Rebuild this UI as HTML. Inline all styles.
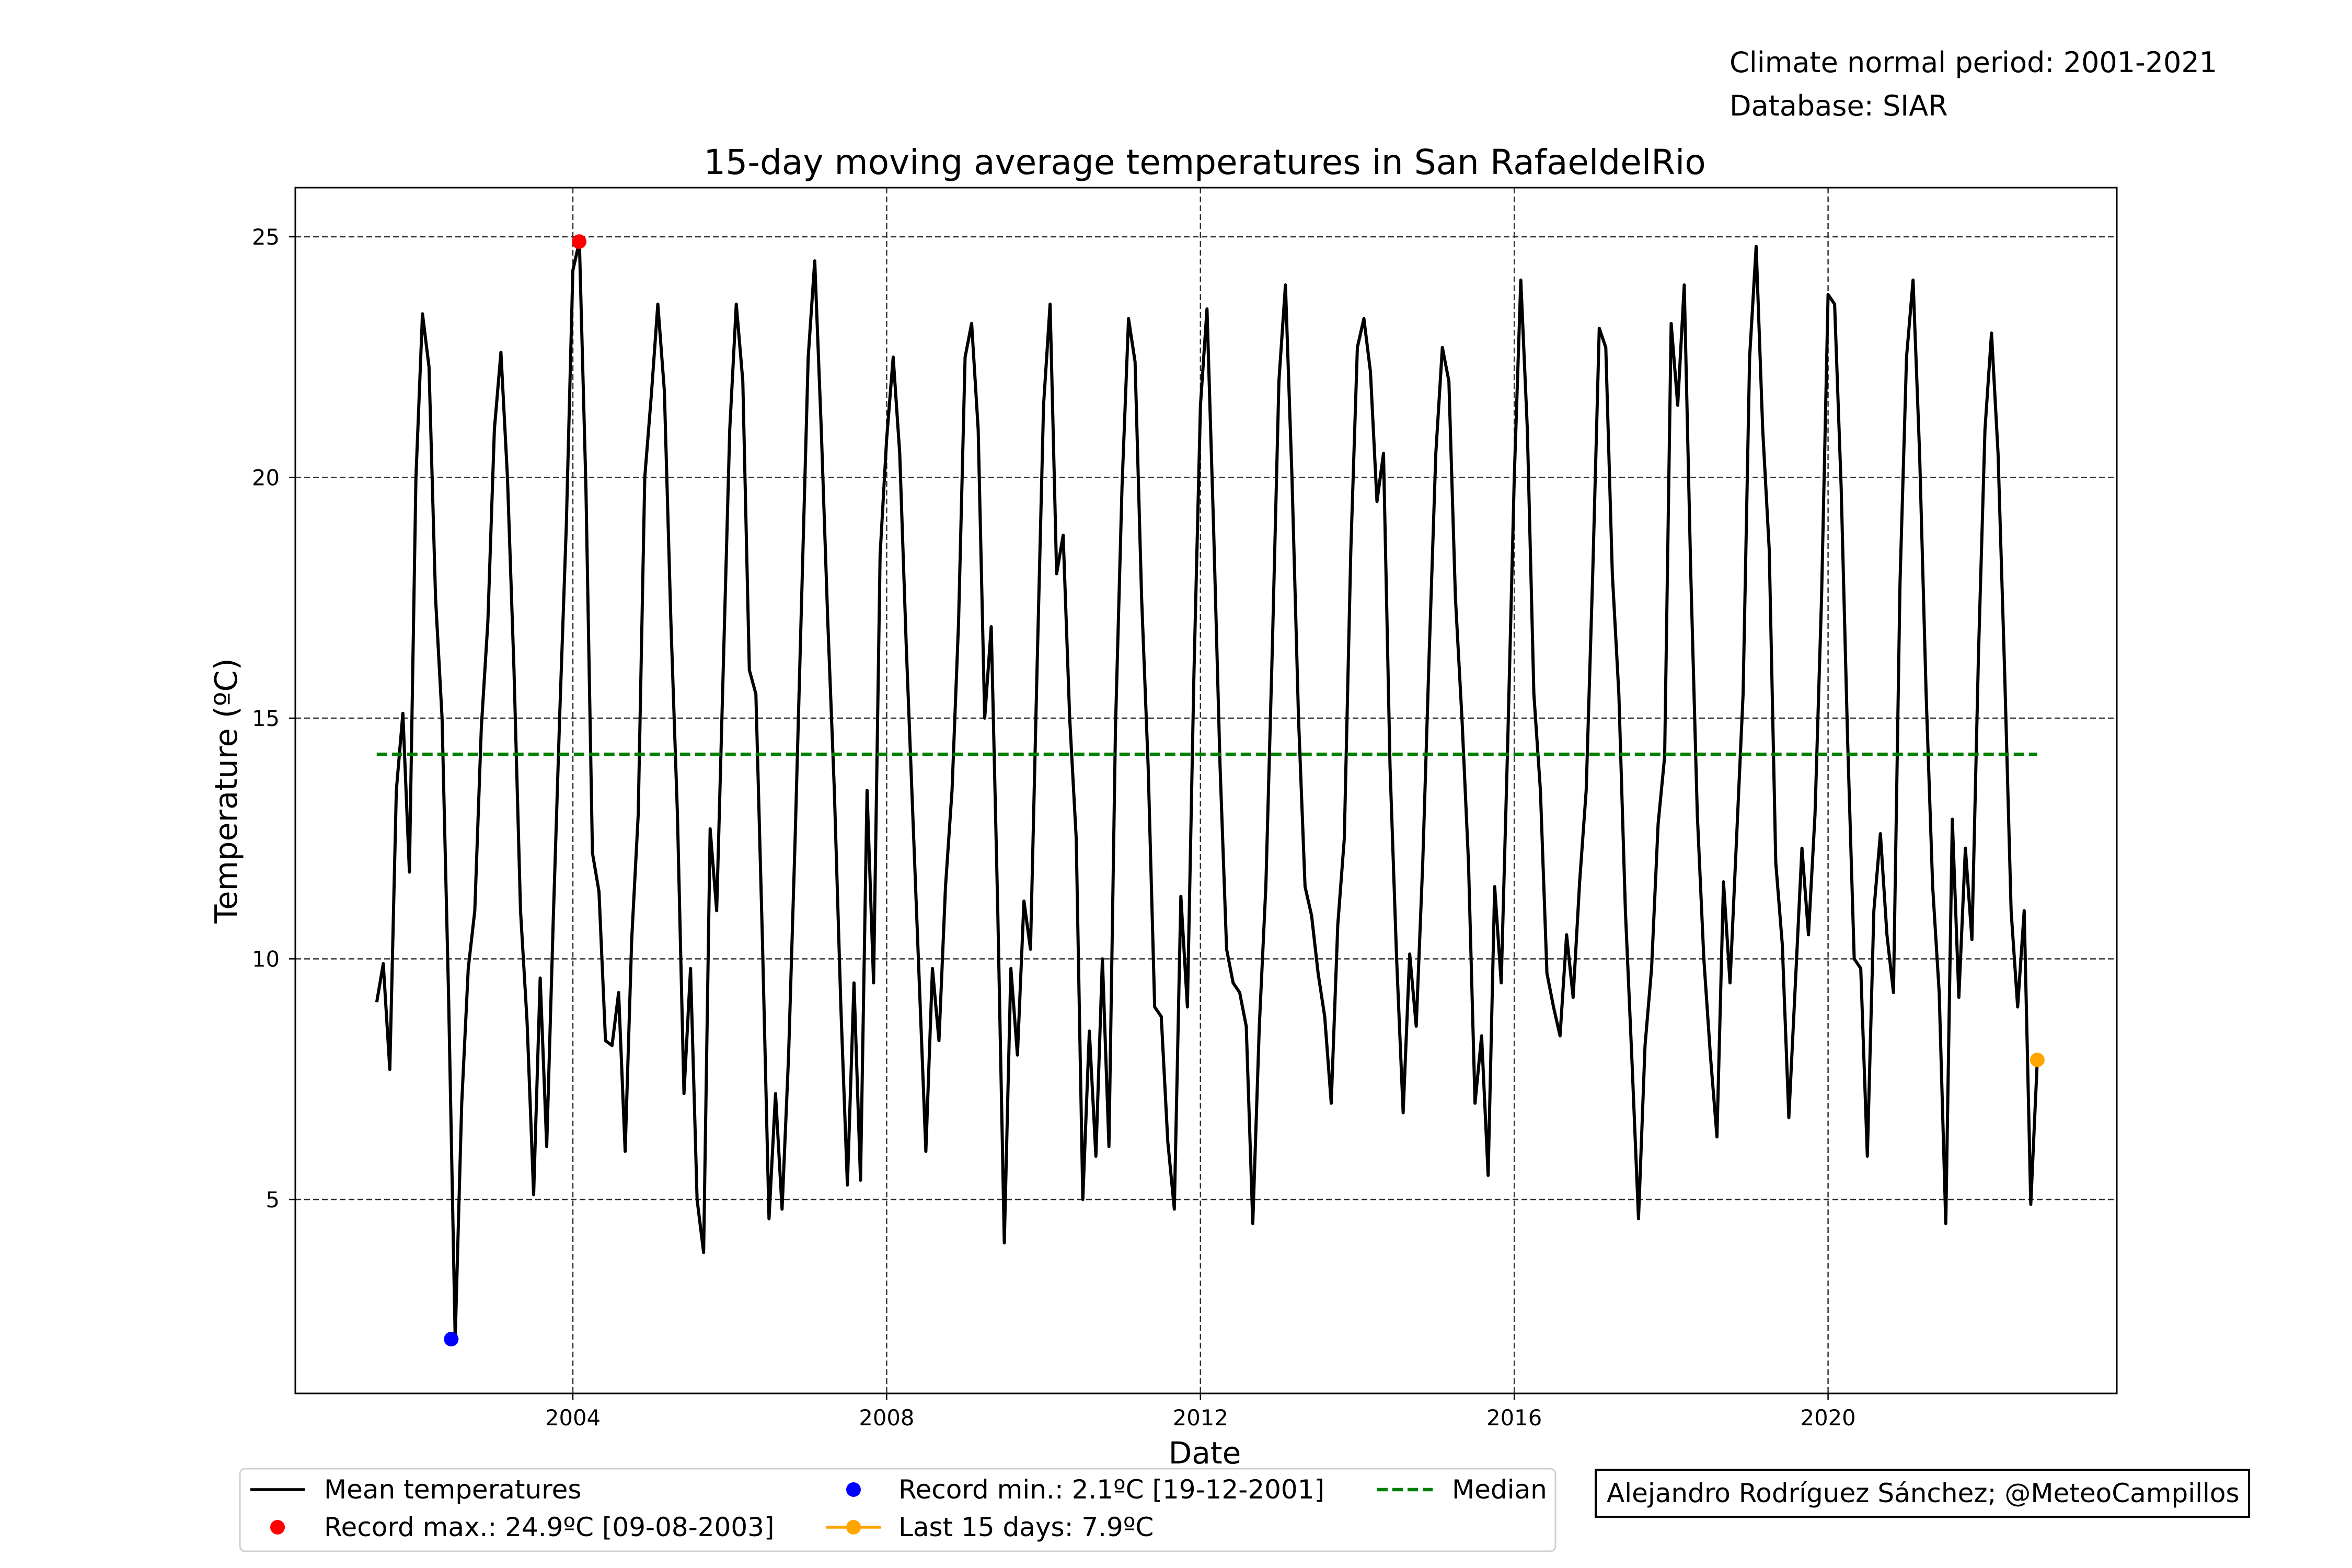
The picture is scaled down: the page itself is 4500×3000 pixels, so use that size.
<!DOCTYPE html>
<html><head><meta charset="utf-8"><style>
html,body{margin:0;padding:0;background:#fff;}
svg{display:block;font-family:"DejaVu Sans","Liberation Sans",sans-serif;}
</style></head><body>
<svg id="chart" width="4500" height="3000" viewBox="0 0 4500 3000" xmlns="http://www.w3.org/2000/svg">
<rect x="0" y="0" width="4500" height="3000" fill="#fff"/>
<text x="3309" y="138" font-size="54">Climate normal period: 2001-2021</text>
<text x="3309" y="221" font-size="54">Database: SIAR</text>
<text x="2305" y="333" font-size="66" text-anchor="middle">15-day moving average temperatures in San RafaeldelRio</text>
<g id="grid"></g>
<g id="plot"></g>
<rect x="565" y="359" width="3485" height="2307" fill="none" stroke="#000" stroke-width="3"/>
<g id="ticks"></g>
<text x="2305" y="2800" font-size="58" text-anchor="middle">Date</text>
<text x="0" y="0" font-size="59" text-anchor="middle" transform="translate(453,1513) rotate(-90)">Temperature (ºC)</text>
<g>
<rect x="459" y="2810" width="2517" height="158" rx="10" fill="#fff" stroke="#d0d0d0" stroke-width="3"/>
<line x1="479" y1="2850" x2="583" y2="2850" stroke="#000" stroke-width="5.5"/>
<text x="620" y="2867" font-size="50">Mean temperatures</text>
<circle cx="531" cy="2922" r="14" fill="#ff0000"/>
<text x="620" y="2939" font-size="50">Record max.: 24.9ºC [09-08-2003]</text>
<circle cx="1633" cy="2850" r="14" fill="#0000ff"/>
<text x="1719" y="2867" font-size="50">Record min.: 2.1ºC [19-12-2001]</text>
<line x1="1580" y1="2922" x2="1686" y2="2922" stroke="#ffa500" stroke-width="5.5"/>
<circle cx="1633" cy="2922" r="14" fill="#ffa500"/>
<text x="1719" y="2939" font-size="50">Last 15 days: 7.9ºC</text>
<line x1="2635" y1="2850" x2="2741" y2="2850" stroke="#008000" stroke-width="6.5" stroke-dasharray="20,9"/>
<text x="2778" y="2867" font-size="50">Median</text>
</g>
<g>
<rect x="3053" y="2812" width="1250" height="90" fill="#fff" stroke="#000" stroke-width="4"/>
<text x="3074" y="2874" font-size="50">Alejandro Rodríguez Sánchez; @MeteoCampillos</text>
</g>
</svg>
<script>
const startYear = 2001.5;
const stepYears = 1/12;
const temps = [
9.1,9.9,7.7,13.5,15.1,11.8,20,23.4,22.3,17.5,15,9.2,
2.1,7,9.8,11,14.8,17,21,22.6,20,16,11,8.7,
5.1,9.6,6.1,10.8,15.1,19,24.3,24.9,19.8,12.2,11.4,8.3,
8.2,9.3,6.0,10.4,13,20,21.7,23.6,21.8,17,13,7.2,
9.8,5.0,3.9,12.7,11,16,21,23.6,22,16,15.5,10.4,
4.6,7.2,4.8,8,12.5,17.5,22.5,24.5,21,17,13.5,9,
5.3,9.5,5.4,13.5,9.5,18.4,20.8,22.5,20.5,16.5,13,9.5,
6.0,9.8,8.3,11.5,13.5,17,22.5,23.2,21,15,16.9,11,
4.1,9.8,8,11.2,10.2,16,21.5,23.6,18,18.8,15,12.5,
5.0,8.5,5.9,10,6.1,14.8,19.8,23.3,22.4,17.5,14,9,
8.8,6.2,4.8,11.3,9,15.9,21.5,23.5,19,14,10.2,9.5,
9.3,8.6,4.5,8.6,11.5,16.5,22,24,20,15,11.5,10.9,
9.7,8.8,7,10.7,12.5,18.5,22.7,23.3,22.2,19.5,20.5,14,
10,6.8,10.1,8.6,12,16.4,20.5,22.7,22,17.5,15,12,
7,8.4,5.5,11.5,9.5,14.5,20,24.1,21,15.5,13.5,9.7,
9,8.4,10.5,9.2,11.6,13.5,18,23.1,22.7,18,15.5,11,
7.9,4.6,8.2,9.8,12.8,14.2,23.2,21.5,24,18,13,10,
8,6.3,11.6,9.5,12.5,15.5,22.5,24.8,21,18.5,12,10.3,
6.7,9.5,12.3,10.5,13,17.5,23.8,23.6,19.8,14.5,10,9.8,
5.9,11,12.6,10.5,9.3,17.8,22.5,24.1,20.5,15.5,11.5,9.3,
4.5,12.9,9.2,12.3,10.4,16.3,21,23,20.5,16,11,9,
11.0,4.9,7.9
];
const yTicks = [5,10,15,20,25];
const xTicks = [2004,2008,2012,2016,2020];
const medianValue = 14.25;
const recordMax = [2004.08, 24.9];
const recordMin = [2002.45, 2.1];

const NS = "http://www.w3.org/2000/svg";
function xs(t){ return 1096 + (t-2004)*150.1; }
function ys(v){ return 453 + (25-v)*92.1; }
function mk(tag, attrs, parent){ const e=document.createElementNS(NS,tag); for(const k in attrs) e.setAttribute(k,attrs[k]); parent.appendChild(e); return e; }
const grid=document.getElementById('grid'), plot=document.getElementById('plot'), ticks=document.getElementById('ticks');

yTicks.forEach(v=>{
  const g=mk('line',{x1:565,x2:4050,y1:ys(v),y2:ys(v),stroke:'#333',"stroke-width":2.5,"stroke-dasharray":"11,6"},grid);
  
  
  mk('line',{x1:553,x2:565,y1:ys(v),y2:ys(v),stroke:'#000',"stroke-width":2.5},ticks);
  const t=mk('text',{x:535,y:ys(v)+15,"font-size":41.7,"text-anchor":"end"},ticks);
  t.textContent=v;
  
  
});
xTicks.forEach(v=>{
  const g=mk('line',{x1:xs(v),x2:xs(v),y1:359,y2:2666,stroke:'#333',"stroke-width":2.5,"stroke-dasharray":"11,6"},grid);
  
  
  mk('line',{x1:xs(v),x2:xs(v),y1:2666,y2:2678,stroke:'#000',"stroke-width":2.5},ticks);
  const t=mk('text',{x:xs(v),y:2727,"font-size":41.7,"text-anchor":"middle"},ticks);
  t.textContent=v;
  
  
});

const pts = temps.map((v,i)=> xs(startYear+i*stepYears).toFixed(1)+','+ys(v).toFixed(1)).join(' ');
const line=mk('polyline',{points:pts,fill:'none',stroke:'#000',"stroke-width":6,"stroke-linejoin":"round"},plot);



const lastT = startYear+(temps.length-1)*stepYears;
const med=mk('line',{x1:xs(startYear),x2:xs(lastT),y1:ys(medianValue),y2:ys(medianValue),stroke:'#008000',"stroke-width":6.5,"stroke-dasharray":"20,9"},plot);



const mx=mk('circle',{cx:xs(recordMax[0]),cy:ys(recordMax[1]),r:14,fill:'#ff0000'},plot);


const mn=mk('circle',{cx:xs(recordMin[0]),cy:ys(recordMin[1]),r:14,fill:'#0000ff'},plot);


const ls=mk('circle',{cx:xs(lastT),cy:ys(temps[temps.length-1]),r:14,fill:'#ffa500'},plot);


</script>
</body></html>
